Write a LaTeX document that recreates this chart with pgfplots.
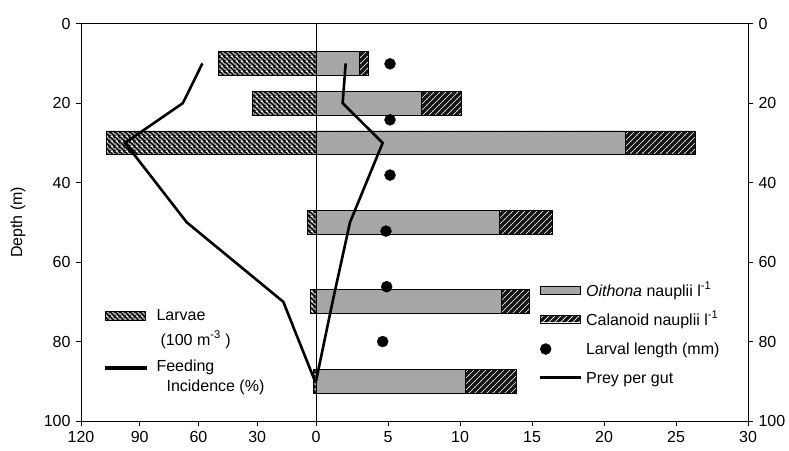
\documentclass[border=0pt]{standalone}
\usepackage{fontspec}
\setmainfont{Liberation Sans}
\usepackage{pgfplots}
\pgfplotsset{compat=1.18}
\usetikzlibrary{patterns}

% coloured patterns: background and stripes in one tile
\pgfdeclarepatterninherentlycolored{larvaepat}{\pgfpointorigin}{\pgfqpoint{5pt}{5pt}}{\pgfqpoint{5pt}{5pt}}
{
  \pgfsetfillcolor{black!36}
  \pgfpathrectangle{\pgfpointorigin}{\pgfqpoint{5pt}{5pt}}
  \pgfusepath{fill}
  \pgfsetstrokecolor{black}
  \pgfsetlinewidth{1.4pt}
  \pgfpathmoveto{\pgfqpoint{-1pt}{6pt}}
  \pgfpathlineto{\pgfqpoint{6pt}{-1pt}}
  \pgfusepath{stroke}
  \pgfpathmoveto{\pgfqpoint{-1pt}{1pt}}
  \pgfpathlineto{\pgfqpoint{1pt}{-1pt}}
  \pgfusepath{stroke}
  \pgfpathmoveto{\pgfqpoint{4pt}{6pt}}
  \pgfpathlineto{\pgfqpoint{6pt}{4pt}}
  \pgfusepath{stroke}
}
\pgfdeclarepatterninherentlycolored{calpat}{\pgfpointorigin}{\pgfqpoint{6.4pt}{6.4pt}}{\pgfqpoint{6.4pt}{6.4pt}}
{
  \pgfsetfillcolor{black!92}
  \pgfpathrectangle{\pgfpointorigin}{\pgfqpoint{6.4pt}{6.4pt}}
  \pgfusepath{fill}
  \pgfsetstrokecolor{white}
  \pgfsetlinewidth{0.7pt}
  \pgfpathmoveto{\pgfqpoint{-1pt}{-1pt}}
  \pgfpathlineto{\pgfqpoint{7.4pt}{7.4pt}}
  \pgfusepath{stroke}
  \pgfpathmoveto{\pgfqpoint{-1pt}{5.4pt}}
  \pgfpathlineto{\pgfqpoint{1pt}{7.4pt}}
  \pgfusepath{stroke}
  \pgfpathmoveto{\pgfqpoint{5.4pt}{-1pt}}
  \pgfpathlineto{\pgfqpoint{7.4pt}{1pt}}
  \pgfusepath{stroke}
}

\tikzset{
  larvae/.style={draw=black, line width=0.8pt, pattern=larvaepat},
  oith/.style={draw=black, line width=0.8pt, fill=black!35},
  cal/.style={draw=black, line width=0.8pt, pattern=calpat},
}

\pgfplotsset{
  myaxis/.style={
    scale only axis,
    height=397.3pt,
    ymin=0, ymax=100, y dir=reverse,
    ytick={0,20,40,60,80,100},
    tick align=outside,
    major tick length=5pt,
    axis line style={line width=0.8pt},
    every tick/.style={black, line width=0.8pt},
    /pgf/number format/assume math mode=true,
    every tick label/.append style={font=\fontsize{16}{20}\selectfont},
    label style={font=\fontsize{16}{20}\selectfont},
    legend style={font=\fontsize{16}{20}\selectfont},
  },
}

\begin{document}
\fontsize{16}{20}\selectfont
\begin{tikzpicture}
\useasboundingbox (-81pt,-29pt) rectangle (708pt,421pt);

% ---------- left half: larvae and feeding incidence ----------
\begin{axis}[myaxis,
  at={(0pt,0pt)}, anchor=south west,
  width=235pt,
  xmin=0, xmax=120, x dir=reverse,
  xtick={0,30,60,90,120},
  xtick pos=left, ytick pos=left,
  ylabel={Depth (m)},
  every axis y label/.style={at={(axis description cs:-0.268,0.5)}, rotate=90, anchor=center},
  legend style={at={(axis description cs:0.102,0.2844)}, anchor=north west,
    draw=none, fill=none, inner sep=0pt, outer sep=0pt,
    column sep=10pt, row sep=9pt,
    cells={anchor=base west},
    nodes={inner sep=0pt, text height=12pt, text depth=30pt}},
]
\addlegendimage{legend image code/.code={\draw[larvae] (0pt,0pt) rectangle (40pt,9pt);}}
\addlegendentry{\begin{tabular}[t]{@{}l@{}}Larvae\\[5pt]\hspace*{4pt}(100 m\textsuperscript{-3} )\end{tabular}}
\addlegendimage{legend image code/.code={\fill[black] (0pt,2.2pt) rectangle (41pt,4.8pt);}}
\addlegendentry{\begin{tabular}[t]{@{}l@{}}Feeding\\\hspace*{10pt}Incidence (\%)\end{tabular}}

% Larvae (100 m^-3)
\addplot[xbar, bar width=6, bar shift=0pt, larvae, forget plot]
  coordinates {(49.7,10) (32.5,20) (106.9,30) (4.4,50) (2.7,70) (1.4,90)};
% Feeding incidence (%)
\addplot[black, line width=2.6pt, mark=none, forget plot]
  coordinates {(58,10) (68,20) (97.5,30) (66,50) (16.7,70) (0.5,90)};
\end{axis}

% ---------- right half: nauplii, larval length, prey per gut ----------
\begin{axis}[myaxis,
  at={(235pt,0pt)}, anchor=south west,
  width=432pt,
  xmin=0, xmax=30,
  xtick={5,10,15,20,25,30},
  xtick pos=left, ytick pos=right,
  legend style={at={(axis description cs:0.5185,0.3448)}, anchor=north west,
    draw=none, fill=none, inner sep=0pt, outer sep=0pt,
    column sep=5pt, row sep=13pt,
    cells={anchor=base west},
    nodes={inner sep=0pt, text height=12pt, text depth=4pt}},
]
\addlegendimage{legend image code/.code={\draw[oith] (0pt,2pt) rectangle (40pt,10pt);}}
\addlegendentry{\textit{Oithona} nauplii l\textsuperscript{-1}}
\addlegendimage{legend image code/.code={\draw[cal] (0pt,2pt) rectangle (40pt,10pt);}}
\addlegendentry{Calanoid nauplii l\textsuperscript{-1}}
\addlegendimage{legend image code/.code={\fill[black] (5pt,5pt) circle (5.5pt);}}
\addlegendentry{Larval length (mm)}
\addlegendimage{legend image code/.code={\fill[black] (0pt,4.7pt) rectangle (40pt,7.3pt);}}
\addlegendentry{Prey per gut}

% total (Oithona + Calanoid) nauplii l^-1, drawn as calanoid part
\addplot[xbar, bar width=6, bar shift=0pt, cal, forget plot]
  coordinates {(3.63,10) (10.09,20) (26.32,30) (16.41,50) (14.81,70) (13.94,90)};
% Oithona nauplii l^-1
\addplot[xbar, bar width=6, bar shift=0pt, oith, forget plot]
  coordinates {(3.01,10) (7.29,20) (21.46,30) (12.73,50) (12.90,70) (10.40,90)};
% Prey per gut
\addplot[black, line width=2.6pt, mark=none, forget plot]
  coordinates {(2.06,10) (1.85,20) (4.63,30) (2.36,50) (1.15,70) (0,90)};
% Larval length (mm)
\addplot[only marks, mark=*, mark size=5.5pt, black, forget plot]
  coordinates {(5.14,10.1) (5.14,24.2) (5.14,38.1) (4.86,52.2) (4.91,66.2) (4.63,80.0)};
\end{axis}
\end{tikzpicture}
\end{document}
